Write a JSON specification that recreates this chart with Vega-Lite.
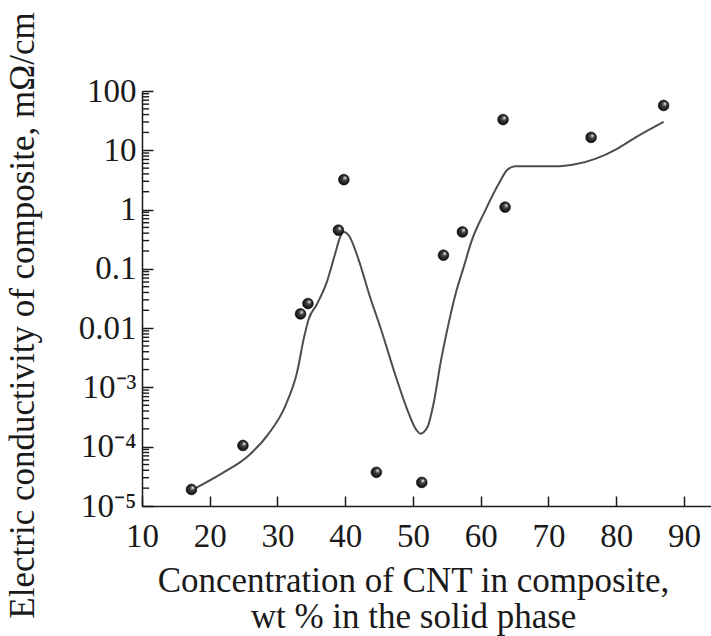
{
  "$schema": "https://vega.github.io/schema/vega-lite/v6.json",
  "width": 569,
  "height": 415,
  "autosize": {"type": "none"},
  "padding": {"left": 142, "top": 91, "right": 0, "bottom": 130},
  "background": "white",
  "config": {
    "view": {"stroke": null},
    "axis": {
      "grid": false,
      "labelFont": "Liberation Serif",
      "titleFont": "Liberation Serif",
      "labelColor": "#1a1a1a",
      "titleColor": "#1a1a1a",
      "domainColor": "#1a1a1a",
      "tickColor": "#1a1a1a",
      "domainWidth": 1.5,
      "tickWidth": 1.5,
      "titleFontWeight": "normal",
      "labelFontSize": 33,
      "titleFontSize": 35
    }
  },
  "datasets": {
    "curve": [
      {"conc": 17.9, "cond": 0.00002},
      {"conc": 21.8, "cond": 0.0000355},
      {"conc": 25.8, "cond": 0.000072},
      {"conc": 28.7, "cond": 0.000166},
      {"conc": 31.2, "cond": 0.0005},
      {"conc": 32.9, "cond": 0.00182},
      {"conc": 33.9, "cond": 0.0068},
      {"conc": 34.6, "cond": 0.0141},
      {"conc": 35.8, "cond": 0.0251},
      {"conc": 37.2, "cond": 0.0562},
      {"conc": 38.5, "cond": 0.178},
      {"conc": 39.3, "cond": 0.355},
      {"conc": 39.8, "cond": 0.417},
      {"conc": 40.6, "cond": 0.355},
      {"conc": 42.0, "cond": 0.14},
      {"conc": 43.5, "cond": 0.0385},
      {"conc": 45.4, "cond": 0.0087},
      {"conc": 47.4, "cond": 0.00162},
      {"conc": 49.1, "cond": 0.00044},
      {"conc": 50.4, "cond": 0.0002},
      {"conc": 51.1, "cond": 0.000166},
      {"conc": 52.1, "cond": 0.00021},
      {"conc": 53.1, "cond": 0.000575},
      {"conc": 54.1, "cond": 0.0027},
      {"conc": 55.1, "cond": 0.0098},
      {"conc": 56.3, "cond": 0.038},
      {"conc": 57.5, "cond": 0.108},
      {"conc": 58.7, "cond": 0.305},
      {"conc": 60.7, "cond": 0.98},
      {"conc": 62.7, "cond": 2.77},
      {"conc": 63.9, "cond": 4.65},
      {"conc": 65.1, "cond": 5.4},
      {"conc": 68.6, "cond": 5.4},
      {"conc": 71.6, "cond": 5.4},
      {"conc": 74.1, "cond": 5.86},
      {"conc": 77.1, "cond": 7.31},
      {"conc": 80.0, "cond": 10.4},
      {"conc": 83.0, "cond": 16.9},
      {"conc": 87.0, "cond": 30.3}
    ],
    "measured": [
      {"conc": 17.3, "cond": 0.000019},
      {"conc": 24.9, "cond": 0.000105},
      {"conc": 33.4, "cond": 0.0174},
      {"conc": 34.5, "cond": 0.026},
      {"conc": 39.0, "cond": 0.45},
      {"conc": 39.8, "cond": 3.2},
      {"conc": 44.6, "cond": 0.000037},
      {"conc": 51.3, "cond": 0.000025},
      {"conc": 54.5, "cond": 0.17},
      {"conc": 57.3, "cond": 0.42},
      {"conc": 63.3, "cond": 33},
      {"conc": 63.6, "cond": 1.1},
      {"conc": 76.3, "cond": 16.5},
      {"conc": 87.0, "cond": 57}
    ],
    "minorTicks": [
      {"cond": 0.00002}, {"cond": 0.00003}, {"cond": 0.00004}, {"cond": 0.00005},
      {"cond": 0.00006}, {"cond": 0.00007}, {"cond": 0.00008}, {"cond": 0.00009},
      {"cond": 0.0002}, {"cond": 0.0003}, {"cond": 0.0004}, {"cond": 0.0005},
      {"cond": 0.0006}, {"cond": 0.0007}, {"cond": 0.0008}, {"cond": 0.0009},
      {"cond": 0.002}, {"cond": 0.003}, {"cond": 0.004}, {"cond": 0.005},
      {"cond": 0.006}, {"cond": 0.007}, {"cond": 0.008}, {"cond": 0.009},
      {"cond": 0.02}, {"cond": 0.03}, {"cond": 0.04}, {"cond": 0.05},
      {"cond": 0.06}, {"cond": 0.07}, {"cond": 0.08}, {"cond": 0.09},
      {"cond": 0.2}, {"cond": 0.3}, {"cond": 0.4}, {"cond": 0.5},
      {"cond": 0.6}, {"cond": 0.7}, {"cond": 0.8}, {"cond": 0.9},
      {"cond": 2}, {"cond": 3}, {"cond": 4}, {"cond": 5},
      {"cond": 6}, {"cond": 7}, {"cond": 8}, {"cond": 9},
      {"cond": 20}, {"cond": 30}, {"cond": 40}, {"cond": 50},
      {"cond": 60}, {"cond": 70}, {"cond": 80}, {"cond": 90}
    ]
  },
  "layer": [
    {
      "data": {"name": "curve"},
      "mark": {"type": "line", "interpolate": "monotone", "color": "#4d4d4d", "strokeWidth": 2},
      "encoding": {
        "x": {
          "field": "conc",
          "type": "quantitative",
          "scale": {"domain": [10, 94], "nice": false, "zero": false},
          "axis": {
            "values": [10, 20, 30, 40, 50, 60, 70, 80, 90],
            "tickSize": -10,
            "labelPadding": 24,
            "labelFlush": false,
            "title": ["Concentration of CNT in composite,", "wt % in the solid phase"],
            "titleX": 271,
            "titleY": 57,
            "titleAnchor": null,
            "titleAlign": "center",
            "titleBaseline": "top",
            "titleLineHeight": 36
          }
        },
        "y": {
          "field": "cond",
          "type": "quantitative",
          "scale": {"type": "log", "domain": [0.00001, 100], "nice": false},
          "axis": {
            "values": [0.00001, 0.0001, 0.001, 0.01, 0.1, 1, 10, 100],
            "tickSize": -11,
            "labelPadding": 17,
            "labelFlush": false,
            "labelExpr": "datum.value < 0.00002 ? '10⁻⁵' : datum.value < 0.0002 ? '10⁻⁴' : datum.value < 0.002 ? '10⁻³' : format(datum.value, '~g')",
            "title": "Electric conductivity of composite, mΩ/cm",
            "titleX": -120,
            "titleY": 224,
            "titleAngle": -90,
            "titleAlign": "center",
            "titleBaseline": "middle",
            "titleAnchor": null
          }
        }
      }
    },
    {
      "data": {"name": "measured"},
      "mark": {
        "type": "point",
        "shape": "circle",
        "filled": true,
        "size": 115,
        "opacity": 1,
        "stroke": "#000000",
        "strokeWidth": 0.6,
        "fill": {
          "gradient": "radial",
          "x1": 0.64, "y1": 0.32, "r1": 0.02,
          "x2": 0.5, "y2": 0.5, "r2": 0.55,
          "stops": [
            {"offset": 0, "color": "#eeeeee"},
            {"offset": 0.35, "color": "#444444"},
            {"offset": 1, "color": "#050505"}
          ]
        }
      },
      "encoding": {
        "x": {"field": "conc", "type": "quantitative"},
        "y": {"field": "cond", "type": "quantitative"}
      }
    },
    {
      "data": {"name": "minorTicks"},
      "mark": {"type": "rule", "color": "#1a1a1a", "strokeWidth": 1.4, "strokeCap": "butt"},
      "encoding": {
        "y": {"field": "cond", "type": "quantitative"},
        "x": {"datum": 10, "type": "quantitative"},
        "x2": {"datum": 11.05}
      }
    }
  ]
}
